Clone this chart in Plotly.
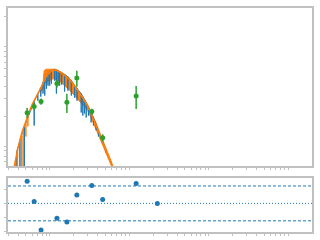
import plotly.graph_objects as go
from plotly.subplots import make_subplots

# Smooth model curve (orange line)
curve_x = [0.35, 0.4, 0.45, 0.5, 0.55, 0.6, 0.7, 0.8, 0.9, 1.0, 1.1, 1.2, 1.4, 1.6, 1.8,
           2.0, 2.3, 2.6, 3.0, 3.4, 3.8, 4.3, 4.8, 5.4, 6.0, 6.5]
curve_y = [0.0058, 0.00977, 0.01413, 0.0182, 0.0219, 0.0263, 0.0331, 0.0407, 0.0501, 0.0556,
           0.0582, 0.0582, 0.0550, 0.0507, 0.0468, 0.0417, 0.0355, 0.0309, 0.0254, 0.0204,
           0.0166, 0.0129, 0.0102, 0.00813, 0.00676, 0.00575]

# Orange model band
band_x = [0.75, 0.8, 0.83, 0.85, 0.9, 1.0, 1.1, 1.2, 1.3, 1.4, 1.6, 1.8, 2.0, 2.3, 2.6,
          3.0, 3.4, 3.8, 4.3, 4.8, 5.4, 6.0]
band_hi = [0.0380, 0.0407, 0.0457, 0.0575, 0.0596, 0.0596, 0.0596, 0.0596, 0.0575, 0.0556,
           0.0519, 0.0479, 0.0427, 0.0363, 0.0316, 0.0263, 0.0214, 0.0174, 0.0135, 0.0107,
           0.00851, 0.00692]
band_lo = [0.0347, 0.0363, 0.0380, 0.0417, 0.0437, 0.0457, 0.0479, 0.0468, 0.0457, 0.0437,
           0.0398, 0.0363, 0.0331, 0.0295, 0.0263, 0.0229, 0.0186, 0.0155, 0.0120, 0.00955,
           0.00776, 0.00631]

# Blue high-resolution spectrum: absorption lines (position, continuum, line bottom)
line_x = [0.383, 0.422, 0.480, 0.637, 0.708, 0.772, 0.824, 0.866, 0.909, 0.952, 1.0, 1.05,
          1.155, 1.213, 1.277, 1.334, 1.413, 1.54, 1.693, 1.868, 2.054, 2.207, 2.49, 2.61,
          2.738, 2.875, 3.073, 3.32, 3.548, 3.836, 4.1, 4.64, 5.11]
line_top = [0.00871, 0.0115, 0.0158, 0.0282, 0.0339, 0.0380, 0.0437, 0.0468, 0.0513, 0.0537,
            0.0562, 0.0575, 0.0589, 0.0575, 0.0575, 0.0562, 0.0550, 0.0525, 0.0501, 0.0457,
            0.0407, 0.0380, 0.0339, 0.0316, 0.0295, 0.0275, 0.0245, 0.0219, 0.0195, 0.0166,
            0.0141, 0.0112, 0.00912]
line_bot = [0.0045, 0.0045, 0.0045, 0.0162, 0.0288, 0.0316, 0.0339, 0.0324, 0.0380, 0.0407,
            0.0407, 0.0427, 0.0457, 0.0339, 0.0417, 0.0407, 0.0417, 0.0355, 0.0363, 0.0324,
            0.0309, 0.0288, 0.0219, 0.0204, 0.0214, 0.0195, 0.0204, 0.0174, 0.0162, 0.0145,
            0.0126, 0.0107, 0.00871]

# Orange spectrum lines at low energy
oline_x = [0.371, 0.392, 0.443, 0.464, 0.501, 0.531]
oline_top = [0.0072, 0.0093, 0.0128, 0.0145, 0.0178, 0.0200]
oline_bot = [0.0045, 0.0045, 0.0045, 0.0045, 0.0126, 0.0158]

# Data points (green) and residuals (blue)
data_x = [0.520, 0.637, 0.778, 1.233, 1.644, 2.193, 3.381, 4.634, 12.23, 22.6]
data_y = [0.02173, 0.0251, 0.0282, 0.0427, 0.0277, 0.0486, 0.0224, 0.01222, 0.0321, 0.003]
data_err = [0.0025, 0.002, 0.002, 0.0036, 0.006, 0.0088, 0.0015, 0.001, 0.0084, 0.0005]
resid = [3.19, 0.29, -3.81, -2.14, -2.67, 1.19, 2.57, 0.57, 2.86, 0.0]
resid_band = 2.5

BLUE = "#1f77b4"
ORANGE = "#ff7f0e"
GREEN = "#2ca02c"
FRAME = "#c0c0c0"


def segs(xs, tops, bots):
    X, Y = [], []
    for x, t, b in zip(xs, tops, bots):
        X += [x, x, x]
        Y += [t, b, t]
    return X, Y


def vsegs(xs, tops, bots):
    X, Y = [], []
    for x, t, b in zip(xs, tops, bots):
        X += [x, x, None]
        Y += [t, b, None]
    return X, Y


fig = make_subplots(rows=2, cols=1, shared_xaxes=False, vertical_spacing=0.0)

# orange band
fig.add_trace(go.Scatter(x=band_x + band_x[::-1], y=band_hi + band_lo[::-1], fill="toself",
                         fillcolor=ORANGE, line=dict(color=ORANGE, width=1), mode="lines",
                         hoverinfo="skip"), row=1, col=1)
# blue spectrum
bx, by = segs(line_x, line_top, line_bot)
fig.add_trace(go.Scatter(x=bx, y=by, mode="lines", line=dict(color=BLUE, width=1)),
              row=1, col=1)
# orange lines
ox, oy = vsegs(oline_x, oline_top, oline_bot)
fig.add_trace(go.Scatter(x=ox, y=oy, mode="lines", line=dict(color=ORANGE, width=1.5)),
              row=1, col=1)
# smooth model
fig.add_trace(go.Scatter(x=curve_x, y=curve_y, mode="lines", line=dict(color=ORANGE, width=1.5)),
              row=1, col=1)
# data
fig.add_trace(go.Scatter(x=data_x, y=data_y, mode="markers",
                         marker=dict(color=GREEN, size=5),
                         error_y=dict(type="data", array=data_err, color=GREEN, thickness=1.5,
                                      width=0)), row=1, col=1)
# residuals
fig.add_trace(go.Scatter(x=data_x, y=resid, mode="markers", marker=dict(color=BLUE, size=5)),
              row=2, col=1)

for yv, dash in [(resid_band, "3px,2px"), (0, "1px,2px"), (-resid_band, "3px,2px")]:
    fig.add_shape(type="line", xref="x2 domain", yref="y2", x0=0, x1=1, y0=yv, y1=yv,
                  line=dict(color=BLUE, width=1, dash=dash), layer="below")

logticks = [k * 10 ** d for d in range(-1, 4) for k in range(1, 10)]
ylogticks = [k * 10 ** d for d in range(-3, 0) for k in range(1, 10)]

axis_common = dict(showgrid=False, zeroline=False, showline=True, mirror=True,
                   linecolor=FRAME, linewidth=2, ticks="outside", ticklen=2,
                   tickcolor=FRAME, tickwidth=1, showticklabels=False)

fig.update_xaxes(type="log", range=[-0.525, 3.3], tickvals=logticks, **axis_common)
fig.update_yaxes(**axis_common)
fig.update_yaxes(type="log", range=[-2.2, -0.61], tickvals=ylogticks, domain=[0.2933, 1],
                 row=1, col=1)
fig.update_yaxes(range=[-4.1, 3.61], tickvals=[-4, -2, 0, 2], domain=[0, 0.24], row=2, col=1)

fig.update_layout(width=320, height=240, margin=dict(l=8, r=6, t=7, b=8),
                  paper_bgcolor="white", plot_bgcolor="white", showlegend=False)

fig.write_html("out.html")
